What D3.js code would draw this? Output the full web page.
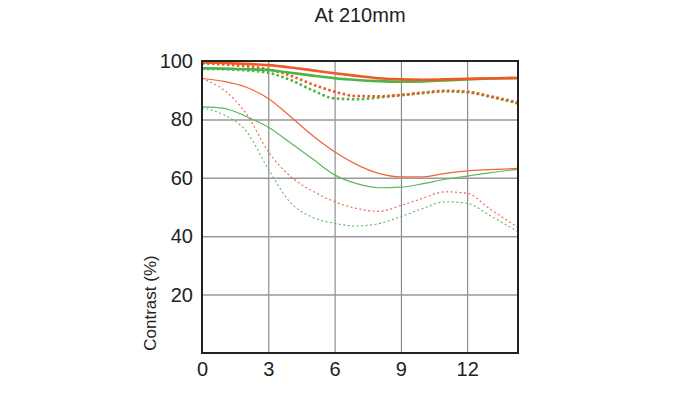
<!DOCTYPE html>
<html>
<head>
<meta charset="utf-8">
<script src="https://cdn.jsdelivr.net/npm/d3@7"></script>
<style>
  body { margin: 0; background: #fff; }
  svg { display: block; font-family: 'Liberation Sans', Arial, sans-serif; }
</style>
</head>
<body>
<svg id="chart" width="700" height="393"></svg>
<script>
// sample positions along the image height (mm)
const xs = [0, 1, 2, 3, 4, 5, 6, 7, 8, 9, 10, 11, 12, 13, 14.3];

// contrast values (%)
const sag10 = [99.5, 99.3, 99, 98.6, 97.8, 96.8, 95.8, 94.9, 94.1, 93.7, 93.6, 93.7, 93.9, 94.0, 94.2];
const mer10 = [97.5, 97.4, 97.2, 96.9, 96, 95, 94.1, 93.5, 93.1, 92.9, 93, 93.3, 93.7, 94, 94.2];
const sag10dot = [99.2, 98.8, 98.2, 97.2, 95, 92, 89.5, 88, 87.9, 88.4, 89.2, 89.8, 89.5, 88, 85.8];
const mer10dot = [97.3, 97.2, 96.8, 96, 93.5, 90, 87.2, 86.9, 87.5, 88.3, 89, 89.6, 89.3, 87.8, 85.5];
const sag30 = [94, 93, 91, 87.2, 81, 74.5, 68.9, 64.5, 61.5, 60.3, 60.3, 61.5, 62.4, 62.8, 63.2];
const mer30 = [84.3, 83.8, 81, 77.3, 72, 66.5, 61, 58, 56.6, 56.8, 58, 59.5, 60.6, 61.7, 62.9];
const sag30dot = [94, 90, 82, 69, 60.5, 55.5, 51.8, 49.5, 48.5, 50.5, 53, 55.2, 54.7, 49.5, 43];
const mer30dot = [84, 81.5, 76, 63, 51.5, 46.5, 44.4, 43.5, 44.3, 46.7, 49.5, 51.8, 51.3, 47.2, 41.5];

const xTicks = [0, 3, 6, 9, 12];
const yTicks = [20, 40, 60, 80, 100];

const ORANGE = '#f05a22';
const GREEN = '#4cb448';

const series = [
    { values: mer30dot, color: '#5cb85c', width: 1.1, dash: '2,2.5' },
    { values: sag30dot, color: '#f2604a', width: 1.1, dash: '2,2.5' },
    { values: mer30, color: '#5cb85c', width: 1.2, dash: null },
    { values: sag30, color: '#f2643a', width: 1.2, dash: null },
    { values: mer10dot, color: GREEN, width: 2.6, dash: '2.5,2.5' },
    { values: sag10dot, color: ORANGE, width: 2.6, dash: '2.5,2.5' },
    { values: mer10, color: GREEN, width: 2.6, dash: null },
    { values: sag10, color: ORANGE, width: 2.6, dash: null }
];

const svg = d3.select('#chart');
const margin = { top: 61, right: 182, bottom: 40, left: 202 };
const width = 700 - margin.left - margin.right;
const height = 393 - margin.top - margin.bottom;

const x = d3.scaleLinear().domain([0, 14.3]).range([0, width]);
const y = d3.scaleLinear().domain([0, 100]).range([height, 0]);

const g = svg.append('g').attr('transform', `translate(${margin.left},${margin.top})`);

// title
svg.append('text')
    .attr('x', 360).attr('y', 22)
    .attr('text-anchor', 'middle')
    .attr('font-size', 20)
    .attr('fill', '#222')
    .text('At 210mm');

// grid
g.append('g')
    .attr('transform', `translate(0,${height})`)
    .call(d3.axisBottom(x).tickValues(xTicks.slice(1)).tickSize(-height).tickFormat(''))
    .call(a => a.select('.domain').remove())
    .call(a => a.selectAll('line').attr('stroke', '#777').attr('stroke-width', 1));

g.append('g')
    .call(d3.axisLeft(y).tickValues(yTicks.slice(0, -1)).tickSize(-width).tickFormat(''))
    .call(a => a.select('.domain').remove())
    .call(a => a.selectAll('line').attr('stroke', '#999').attr('stroke-width', 1.5));

// tick labels
g.append('g')
    .attr('transform', `translate(0,${height})`)
    .call(d3.axisBottom(x).tickValues(xTicks).tickSize(0).tickPadding(9))
    .call(a => a.select('.domain').remove())
    .call(a => a.selectAll('text').attr('font-size', 20).attr('fill', '#222').attr('font-family', 'Liberation Sans, Arial, sans-serif'));

g.append('g')
    .call(d3.axisLeft(y).tickValues(yTicks).tickSize(0).tickPadding(9))
    .call(a => a.select('.domain').remove())
    .call(a => a.selectAll('text').attr('font-size', 20).attr('fill', '#222').attr('font-family', 'Liberation Sans, Arial, sans-serif'));

// y axis title
svg.append('text')
    .attr('transform', `translate(156,303) rotate(-90)`)
    .attr('text-anchor', 'middle')
    .attr('font-size', 17)
    .attr('fill', '#222')
    .text('Contrast (%)');

// curves
const line = d3.line()
    .x((d, i) => x(xs[i]))
    .y(d => y(d))
    .curve(d3.curveMonotoneX);

g.append('clipPath').attr('id', 'plot-clip')
    .append('rect').attr('width', width).attr('height', height);

g.append('g')
    .attr('clip-path', 'url(#plot-clip)')
    .selectAll('path')
    .data(series)
    .join('path')
    .attr('d', d => line(d.values))
    .attr('fill', 'none')
    .attr('stroke', d => d.color)
    .attr('stroke-width', d => d.width)
    .attr('stroke-dasharray', d => d.dash);

// frame
g.append('rect')
    .attr('width', width).attr('height', height)
    .attr('fill', 'none')
    .attr('stroke', '#222')
    .attr('stroke-width', 2);
</script>
</body>
</html>
